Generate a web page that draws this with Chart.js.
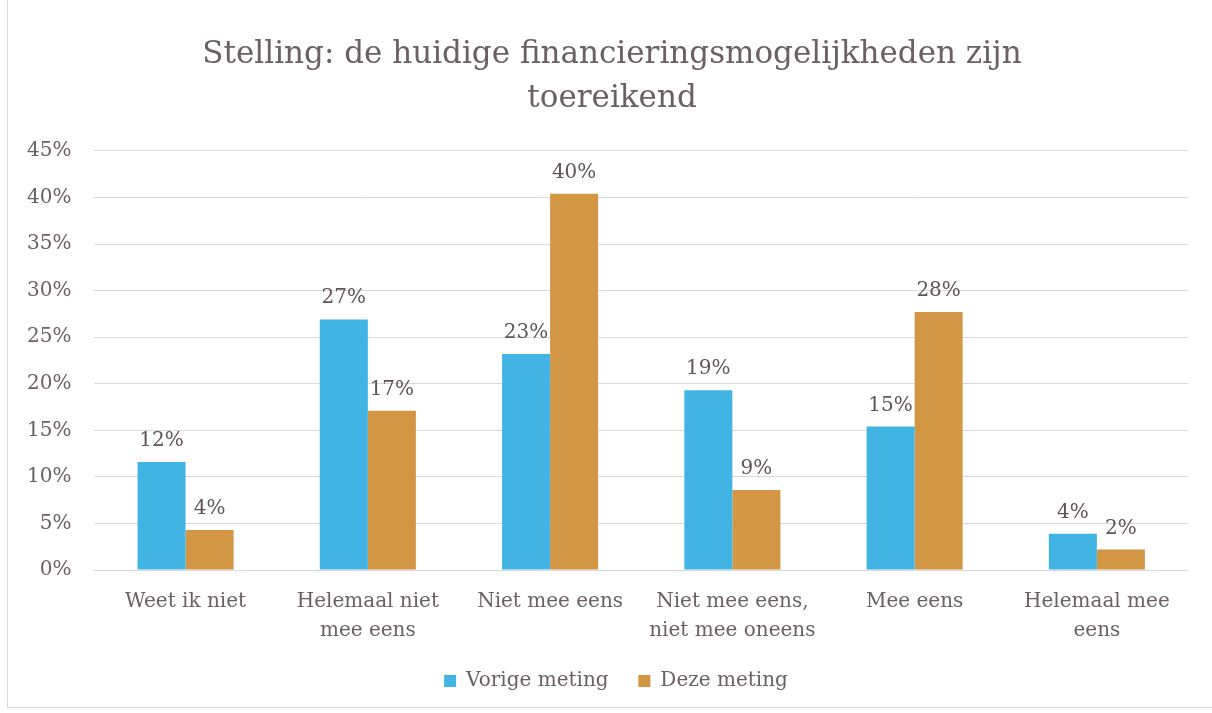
<!DOCTYPE html>
<html><head><meta charset="utf-8">
<script src="https://cdn.jsdelivr.net/npm/chart.js@4"></script>
<style>
html,body{margin:0;padding:0;background:#fff;}
#frame{position:absolute;left:7px;top:-2px;width:1212px;height:710px;border:1px solid #d9d9d9;box-sizing:border-box;}
#wrap{position:absolute;left:0;top:0;width:1212px;height:713px;}
</style></head><body>
<div id="frame"></div>
<div id="wrap"><canvas id="c" width="1212" height="713"></canvas></div>
<script>
const titleLines = ["Stelling: de huidige financieringsmogelijkheden zijn", "toereikend"];
const categories = [["Weet ik niet"], ["Helemaal niet", "mee eens"], ["Niet mee eens"], ["Niet mee eens,", "niet mee oneens"], ["Mee eens"], ["Helemaal mee", "eens"]];
const seriesNames = ["Vorige meting", "Deze meting"];
const vorigeMeting = [11.6, 26.9, 23.2, 19.3, 15.4, 3.9];
const dezeMeting = [4.3, 17.1, 40.4, 8.6, 27.7, 2.2];
const yTicks = [0, 5, 10, 15, 20, 25, 30, 35, 40, 45];

const FONT = "'DejaVu Serif', serif";
const TXT = "#6b6063";

const labelPlugin = {
  id: 'barLabels',
  afterLayout(chart) {
    // centre title and legend like the reference
    const t = chart.titleBlock, l = chart.legend;
    if (t) { t.left += 16; t.right += 16; }
    if (l) { l.left += 20; l.right += 20; }
  },
  afterDatasetsDraw(chart) {
    const ctx = chart.ctx;
    ctx.save();
    ctx.font = "20px " + FONT;
    ctx.fillStyle = "#5f5558";
    ctx.textAlign = 'center';
    ctx.textBaseline = 'alphabetic';
    chart.data.datasets.forEach((ds, i) => {
      const meta = chart.getDatasetMeta(i);
      meta.data.forEach((bar, j) => {
        ctx.fillText(Math.round(ds.data[j]) + '%', bar.x, bar.y - 16);
      });
    });
    ctx.restore();
  }
};

new Chart(document.getElementById('c'), {
  type: 'bar',
  data: {
    labels: categories,
    datasets: [
      { label: seriesNames[0], data: vorigeMeting, backgroundColor: '#41b4e4' },
      { label: seriesNames[1], data: dezeMeting, backgroundColor: '#d29645' }
    ]
  },
  options: {
    responsive: false,
    animation: false,
    devicePixelRatio: 1,
    layout: { padding: { left: 4, right: 24, top: 8, bottom: 12 } },
    datasets: { bar: { barPercentage: 1, categoryPercentage: 0.527 } },
    scales: {
      x: {
        grid: { display: false },
        border: { display: false },
        ticks: { color: TXT, font: { family: FONT, size: 20, lineHeight: 1.45 }, padding: 9, maxRotation: 0, autoSkip: false }
      },
      y: {
        min: 0, max: 45,
        afterBuildTicks(axis) { axis.ticks = yTicks.map(v => ({ value: v })); },
        grid: { color: '#d9d9d9', lineWidth: 1, drawTicks: false },
        border: { display: false },
        ticks: { color: TXT, font: { family: FONT, size: 20 }, padding: 23, callback: v => v + '%' }
      }
    },
    plugins: {
      title: {
        display: true, text: titleLines, color: TXT,
        font: { family: FONT, size: 31, weight: 'normal', lineHeight: 1.45 },
        padding: { top: 24, bottom: 29 }
      },
      legend: {
        position: 'bottom',
        labels: {
          color: TXT, font: { family: FONT, size: 20 }, boxWidth: 12, boxHeight: 12, padding: 17,
          generateLabels(chart) {
            const items = Chart.defaults.plugins.legend.labels.generateLabels(chart);
            items[0].text += '\u00a0\u00a0';
            return items;
          }
        }
      },
      tooltip: { enabled: false }
    }
  },
  plugins: [labelPlugin]
});
</script>
</body></html>
